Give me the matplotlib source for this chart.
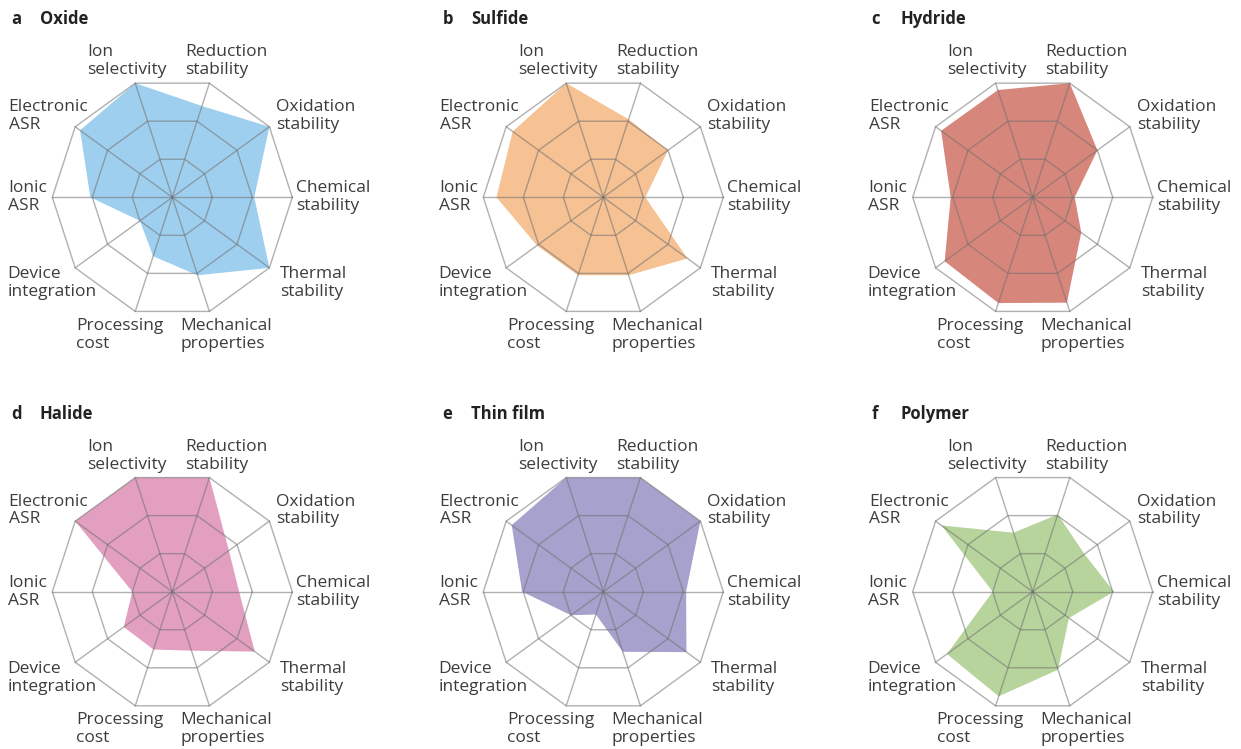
import numpy as np
import matplotlib.pyplot as plt

# axis labels, counter-clockwise from the right (0 deg), 36 deg apart
labels = ['Chemical\nstability', 'Oxidation\nstability', 'Reduction\nstability',
          'Ion\nselectivity', 'Electronic\nASR', 'Ionic\nASR',
          'Device\nintegration', 'Processing\ncost', 'Mechanical\nproperties',
          'Thermal\nstability']

# scores on a 0-3 scale, same order as labels
oxide = [2.05, 3, 2.4, 3, 2.85, 2.05, 1.0, 1.55, 2.05, 3]
sulfide = [1.05, 2.0, 2.05, 3, 2.8, 2.67, 2.05, 2.05, 2.05, 2.6]
hydride = [1.05, 2.0, 3, 2.82, 2.83, 2.05, 2.72, 2.78, 2.77, 1.5]
halide = [1.67, 1.75, 3, 3, 3, 1.0, 1.5, 1.52, 1.55, 2.55]
thin_film = [2.07, 3, 3, 3, 2.83, 2.03, 1.0, 0.6, 1.58, 2.57]
polymer = [2.03, 1.6, 2.03, 1.55, 2.82, 1.0, 2.65, 2.75, 2.05, 1.12]

panels = ['a', 'b', 'c', 'd', 'e', 'f']
names = ['Oxide', 'Sulfide', 'Hydride', 'Halide', 'Thin film', 'Polymer']
series = [oxide, sulfide, hydride, halide, thin_film, polymer]
colors = ['#9fcfef', '#f6c193', '#d7867b', '#e29fc0', '#a6a2cd', '#b7d49c']

# label placement (data units, 1 unit = 1 ring)
lab_pos = [(3.1, 0.0, 'left', 'center'), (2.6, 2.03, 'left', 'center'),
           (0.32, 2.98, 'left', 'bottom'), (-0.14, 2.98, 'right', 'bottom'),
           (-2.1, 2.03, 'right', 'center'), (-3.14, 0.0, 'right', 'center'),
           (-1.9, -2.15, 'right', 'center'), (-0.22, -3.02, 'right', 'top'),
           (0.2, -3.02, 'left', 'top'), (2.7, -2.15, 'left', 'center')]

plt.rcParams['font.family'] = ['Open Sans', 'DejaVu Sans']
W, H = 1241, 749
fig = plt.figure(figsize=(W / 100, H / 100), dpi=100)

theta = np.deg2rad(np.arange(10) * 36)
theta_c = np.append(theta, theta[0])
centers = [(172.3, 197.3), (603.3, 197.3), (1032.7, 197.3),
           (172.3, 591.7), (603.3, 591.7), (1032.7, 591.7)]
R = 120

for k in range(6):
    cx, cy = centers[k]
    ax = fig.add_axes([(cx - R) / W, 1 - (cy + R) / H, 2 * R / W, 2 * R / H])
    ax.set_xlim(-3, 3)
    ax.set_ylim(-3, 3)
    ax.set_axis_off()

    v = np.array(series[k] + [series[k][0]])
    ax.fill(v * np.cos(theta_c), v * np.sin(theta_c), color=colors[k], lw=0, zorder=1)

    # decagon grid
    for lev in [1, 2, 3]:
        ax.plot(lev * np.cos(theta_c), lev * np.sin(theta_c), color='#707070',
                alpha=0.55, lw=1.0, zorder=2, clip_on=False)
    for t in theta:
        ax.plot([0, 3 * np.cos(t)], [0, 3 * np.sin(t)], color='#707070',
                alpha=0.55, lw=1.0, zorder=2, clip_on=False)

    for lab, (x, y, ha, va) in zip(labels, lab_pos):
        ax.text(x, y, lab, ha=ha, va=va, multialignment='left', fontsize=12.5,
                color='#3c3c3c', linespacing=1.15, clip_on=False)

    fig.text((cx - 161) / W, 1 - (cy - 173) / H, panels[k], fontsize=12,
             fontweight='bold', color='#222222', va='baseline')
    fig.text((cx - 132.5) / W, 1 - (cy - 173) / H, names[k], fontsize=12,
             fontweight='bold', color='#222222', va='baseline')

plt.savefig('out.png', dpi=100)
